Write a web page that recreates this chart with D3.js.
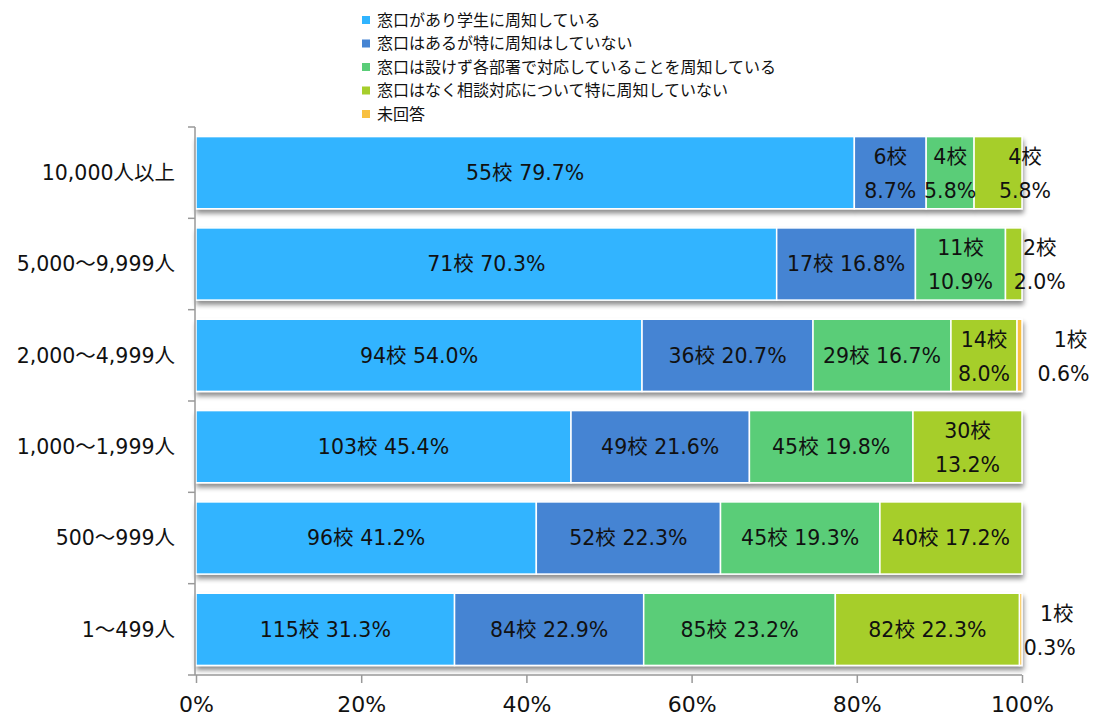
<!DOCTYPE html>
<html>
<head>
<meta charset="utf-8">
<script src="https://cdn.jsdelivr.net/npm/d3@7"></script>
<style>
body { margin: 0; background: #fff; }
text { font-family: "DejaVu Sans", "Noto Sans CJK JP", sans-serif; fill: #111; }
</style>
</head>
<body>
<svg width="1094" height="716"></svg>
<script>
var categories = ['10,000人以上', '5,000〜9,999人', '2,000〜4,999人', '1,000〜1,999人', '500〜999人', '1〜499人'];
var seriesNames = ['窓口があり学生に周知している', '窓口はあるが特に周知はしていない',
	'窓口は設けず各部署で対応していることを周知している', '窓口はなく相談対応について特に周知していない', '未回答'];
var counts = [
	[55, 6, 4, 4, 0],
	[71, 17, 11, 2, 0],
	[94, 36, 29, 14, 1],
	[103, 49, 45, 30, 0],
	[96, 52, 45, 40, 0],
	[115, 84, 85, 82, 1]
];
var percents = [
	[79.7, 8.7, 5.8, 5.8, 0],
	[70.3, 16.8, 10.9, 2.0, 0],
	[54.0, 20.7, 16.7, 8.0, 0.6],
	[45.4, 21.6, 19.8, 13.2, 0],
	[41.2, 22.3, 19.3, 17.2, 0],
	[31.3, 22.9, 23.2, 22.3, 0.3]
];
var xTicks = [0, 20, 40, 60, 80, 100];

var colors = ['#30B4FF', '#4584D3', '#5ACD78', '#A6CE2C', '#F8C040'];
// labels that Excel pushed to the right of their segment
var labelShift = { '0-3': 27, '1-3': 26, '2-4': 51, '5-4': 36 };

var svg = d3.select('svg'),
	pLeft = 196, pRight = 1022, pTop = 127, pBottom = 675;

var x = d3.scaleLinear().domain([0, 100]).range([pLeft, pRight]);
var y = d3.scaleBand().domain(categories).range([pTop, pBottom])
	.paddingInner(0.21).paddingOuter(0.105);
var color = d3.scaleOrdinal().domain(seriesNames).range(colors);

var defs = svg.append('defs');
var f = defs.append('filter').attr('id', 'shadow')
	.attr('x', '-2%').attr('y', '-10%').attr('width', '104%').attr('height', '130%');
f.append('feGaussianBlur').attr('in', 'SourceAlpha').attr('stdDeviation', 2.5);
f.append('feOffset').attr('dx', 1).attr('dy', 4).attr('result', 'o');
f.append('feComponentTransfer').append('feFuncA').attr('type', 'linear').attr('slope', 0.45);
var m = f.append('feMerge');
m.append('feMergeNode');
m.append('feMergeNode').attr('in', 'SourceGraphic');

// stacked data
var rows = categories.map(function(c, i) {
	var acc = 0;
	return percents[i].map(function(p, j) {
		var d = { cat: c, row: i, s: j, n: counts[i][j], p: p, x0: acc, x1: acc + p };
		acc += p;
		return d;
	});
});

var rowG = svg.selectAll('g.row')
	.data(rows)
	.enter().append('g')
		.attr('class', 'row')
		.attr('transform', function(d, i) { return 'translate(0,' + y(categories[i]) + ')'; });

rowG.append('g').attr('filter', 'url(#shadow)')
	.selectAll('rect')
	.data(function(d) { return d.filter(function(e) { return e.p > 0; }); })
	.enter().append('rect')
		.attr('x', function(d) { return x(d.x0); })
		.attr('width', function(d) { return x(d.x1) - x(d.x0); })
		.attr('y', 0)
		.attr('height', y.bandwidth())
		.attr('fill', function(d) { return color(seriesNames[d.s]); })
		.attr('stroke', '#fff')
		.attr('stroke-width', 1.5);

var fs = 20.5;
rowG.each(function(r) {
	var g = d3.select(this);
	var h = y.bandwidth();
	r.filter(function(e) { return e.p > 0; }).forEach(function(d) {
		var cx = (x(d.x0) + x(d.x1)) / 2 + (labelShift[d.row + '-' + d.s] || 0);
		var a = d.n + '校', b = d.p.toFixed(1) + '%';
		var t = g.append('text').attr('font-size', fs).attr('text-anchor', 'middle')
			.attr('x', cx).attr('y', h / 2).attr('dy', '0.35em').text(a + ' ' + b);
		var w = t.node().getComputedTextLength();
		if (w > x(d.x1) - x(d.x0) - 8) {
			t.remove();
			g.append('text').attr('font-size', fs).attr('text-anchor', 'middle')
				.attr('x', cx).attr('y', h / 2 - 16).attr('dy', '0.35em').text(a);
			g.append('text').attr('font-size', fs).attr('text-anchor', 'middle')
				.attr('x', cx - (d.s === 4 ? 7 : 0)).attr('y', h / 2 + 18).attr('dy', '0.35em').text(b);
		}
	});
});

// y axis
var yAxis = svg.append('g');
yAxis.append('line').attr('x1', pLeft - 1).attr('x2', pLeft - 1).attr('y1', pTop).attr('y2', pBottom)
	.attr('stroke', '#999').attr('stroke-width', 1.5);
yAxis.selectAll('line.tick')
	.data(d3.range(categories.length + 1))
	.enter().append('line')
		.attr('class', 'tick')
		.attr('x1', pLeft - 8).attr('x2', pLeft - 1)
		.attr('y1', function(i) { return pTop + i * y.step(); })
		.attr('y2', function(i) { return pTop + i * y.step(); })
		.attr('stroke', '#999').attr('stroke-width', 1.5);
yAxis.selectAll('text')
	.data(categories)
	.enter().append('text')
		.attr('x', 175)
		.attr('y', function(d) { return y(d) + y.bandwidth() / 2; })
		.attr('dy', '0.35em')
		.attr('text-anchor', 'end')
		.attr('font-size', 20.5)
		.text(function(d) { return d; });

// x axis
var xAxis = svg.append('g').attr('transform', 'translate(0,' + pBottom + ')')
	.call(d3.axisBottom(x).tickValues(xTicks).tickSize(8).tickPadding(13)
		.tickFormat(function(d) { return d + '%'; }));
xAxis.select('.domain').attr('stroke', '#999').attr('stroke-width', 1.5)
	.attr('d', 'M' + (pLeft - 1) + ',0H' + pRight);
xAxis.selectAll('.tick line').attr('stroke', '#999').attr('stroke-width', 1.5);
xAxis.selectAll('.tick text').attr('font-size', 22).attr('fill', '#111')
	.style('font-family', '"DejaVu Sans", sans-serif');

// legend
var legend = svg.append('g').attr('transform', 'translate(362,20)');
var li = legend.selectAll('g')
	.data(seriesNames)
	.enter().append('g')
		.attr('transform', function(d, i) { return 'translate(0,' + i * 23.5 + ')'; });
li.append('rect').attr('x', 0).attr('y', -4).attr('width', 8).attr('height', 8)
	.attr('fill', function(d) { return color(d); });
li.append('text').attr('x', 15).attr('dy', '0.35em').attr('font-size', 16)
	.text(function(d) { return d; });
</script>
</body>
</html>
